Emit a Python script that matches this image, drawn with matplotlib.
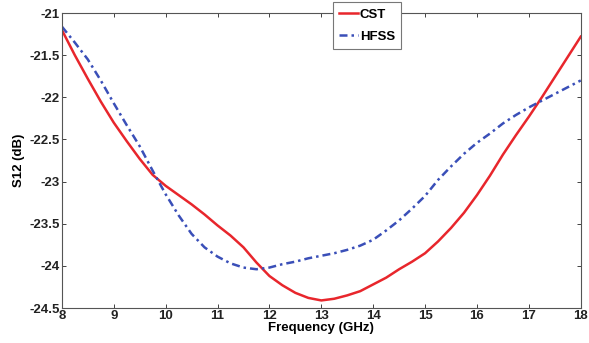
import matplotlib
matplotlib.use("Agg")
import matplotlib.pyplot as plt

freq = [8.0, 8.25, 8.5, 8.75, 9.0, 9.25, 9.5, 9.75, 10.0, 10.25, 10.5, 10.75, 11.0, 11.25, 11.5, 11.75,
        12.0, 12.25, 12.5, 12.75, 13.0, 13.25, 13.5, 13.75, 14.0, 14.25, 14.5, 14.75, 15.0, 15.25, 15.5,
        15.75, 16.0, 16.25, 16.5, 16.75, 17.0, 17.25, 17.5, 17.75, 18.0]
cst = [-21.20, -21.50, -21.78, -22.05, -22.30, -22.52, -22.73, -22.92, -23.05, -23.16, -23.27, -23.39,
       -23.52, -23.64, -23.78, -23.96, -24.12, -24.23, -24.32, -24.38, -24.41, -24.39, -24.35, -24.30,
       -24.22, -24.14, -24.04, -23.95, -23.85, -23.71, -23.55, -23.37, -23.16, -22.93, -22.68, -22.45,
       -22.23, -22.00, -21.76, -21.52, -21.28]
hfss = [-21.16, -21.35, -21.55, -21.80, -22.07, -22.33, -22.58, -22.87, -23.15, -23.40, -23.62, -23.78,
        -23.89, -23.97, -24.02, -24.04, -24.02, -23.98, -23.95, -23.91, -23.88, -23.85, -23.81, -23.76,
        -23.69, -23.58, -23.46, -23.32, -23.17, -22.98, -22.82, -22.67, -22.54, -22.43, -22.31, -22.21,
        -22.12, -22.04, -21.96, -21.88, -21.80]
xticks = [8, 9, 10, 11, 12, 13, 14, 15, 16, 17, 18]
yticks = [-21, -21.5, -22, -22.5, -23, -23.5, -24, -24.5]

plt.rcParams['font.family'] = ['Liberation Sans', 'DejaVu Sans']
plt.rcParams['font.weight'] = 'bold'

fs = 9.5
fig = plt.figure(figsize=(5.89, 3.43), dpi=100)
ax = fig.add_axes([0.105, 0.102, 0.881, 0.860])
ax.plot(freq, cst, color='#e8262c', lw=1.8, label='CST')
ax.plot(freq, hfss, color='#3a4fb8', lw=1.8, ls=(0, (3.2, 1.6, 1.0, 1.6)), label='HFSS')
ax.set_xlim(8, 18)
ax.set_ylim(-24.5, -21)
ax.set_xticks(xticks)
ax.set_yticks(yticks)
ax.set_xticklabels([str(t) for t in xticks], fontsize=fs, fontweight='bold')
ax.set_yticklabels([('%g' % t) for t in yticks], fontsize=fs, fontweight='bold')
ax.tick_params(direction='in', top=True, right=True, length=3, width=0.6, pad=1.5, colors='#222222')
for s in ax.spines.values():
    s.set_linewidth(0.8)
    s.set_color('#555555')
ax.set_xlabel('Frequency (GHz)', fontsize=fs, fontweight='bold', labelpad=0)
ax.set_ylabel('S12 (dB)', fontsize=fs, fontweight='bold', labelpad=3)
leg = ax.legend(loc='upper left', bbox_to_anchor=(0.522, 1.036), fontsize=fs, handlelength=1.5,
                handletextpad=0.1, borderpad=0.45, labelspacing=0.75, fancybox=False,
                framealpha=1, edgecolor='#777777', borderaxespad=0)
leg.get_frame().set_linewidth(0.8)
fig.savefig('out.png', dpi=100)
